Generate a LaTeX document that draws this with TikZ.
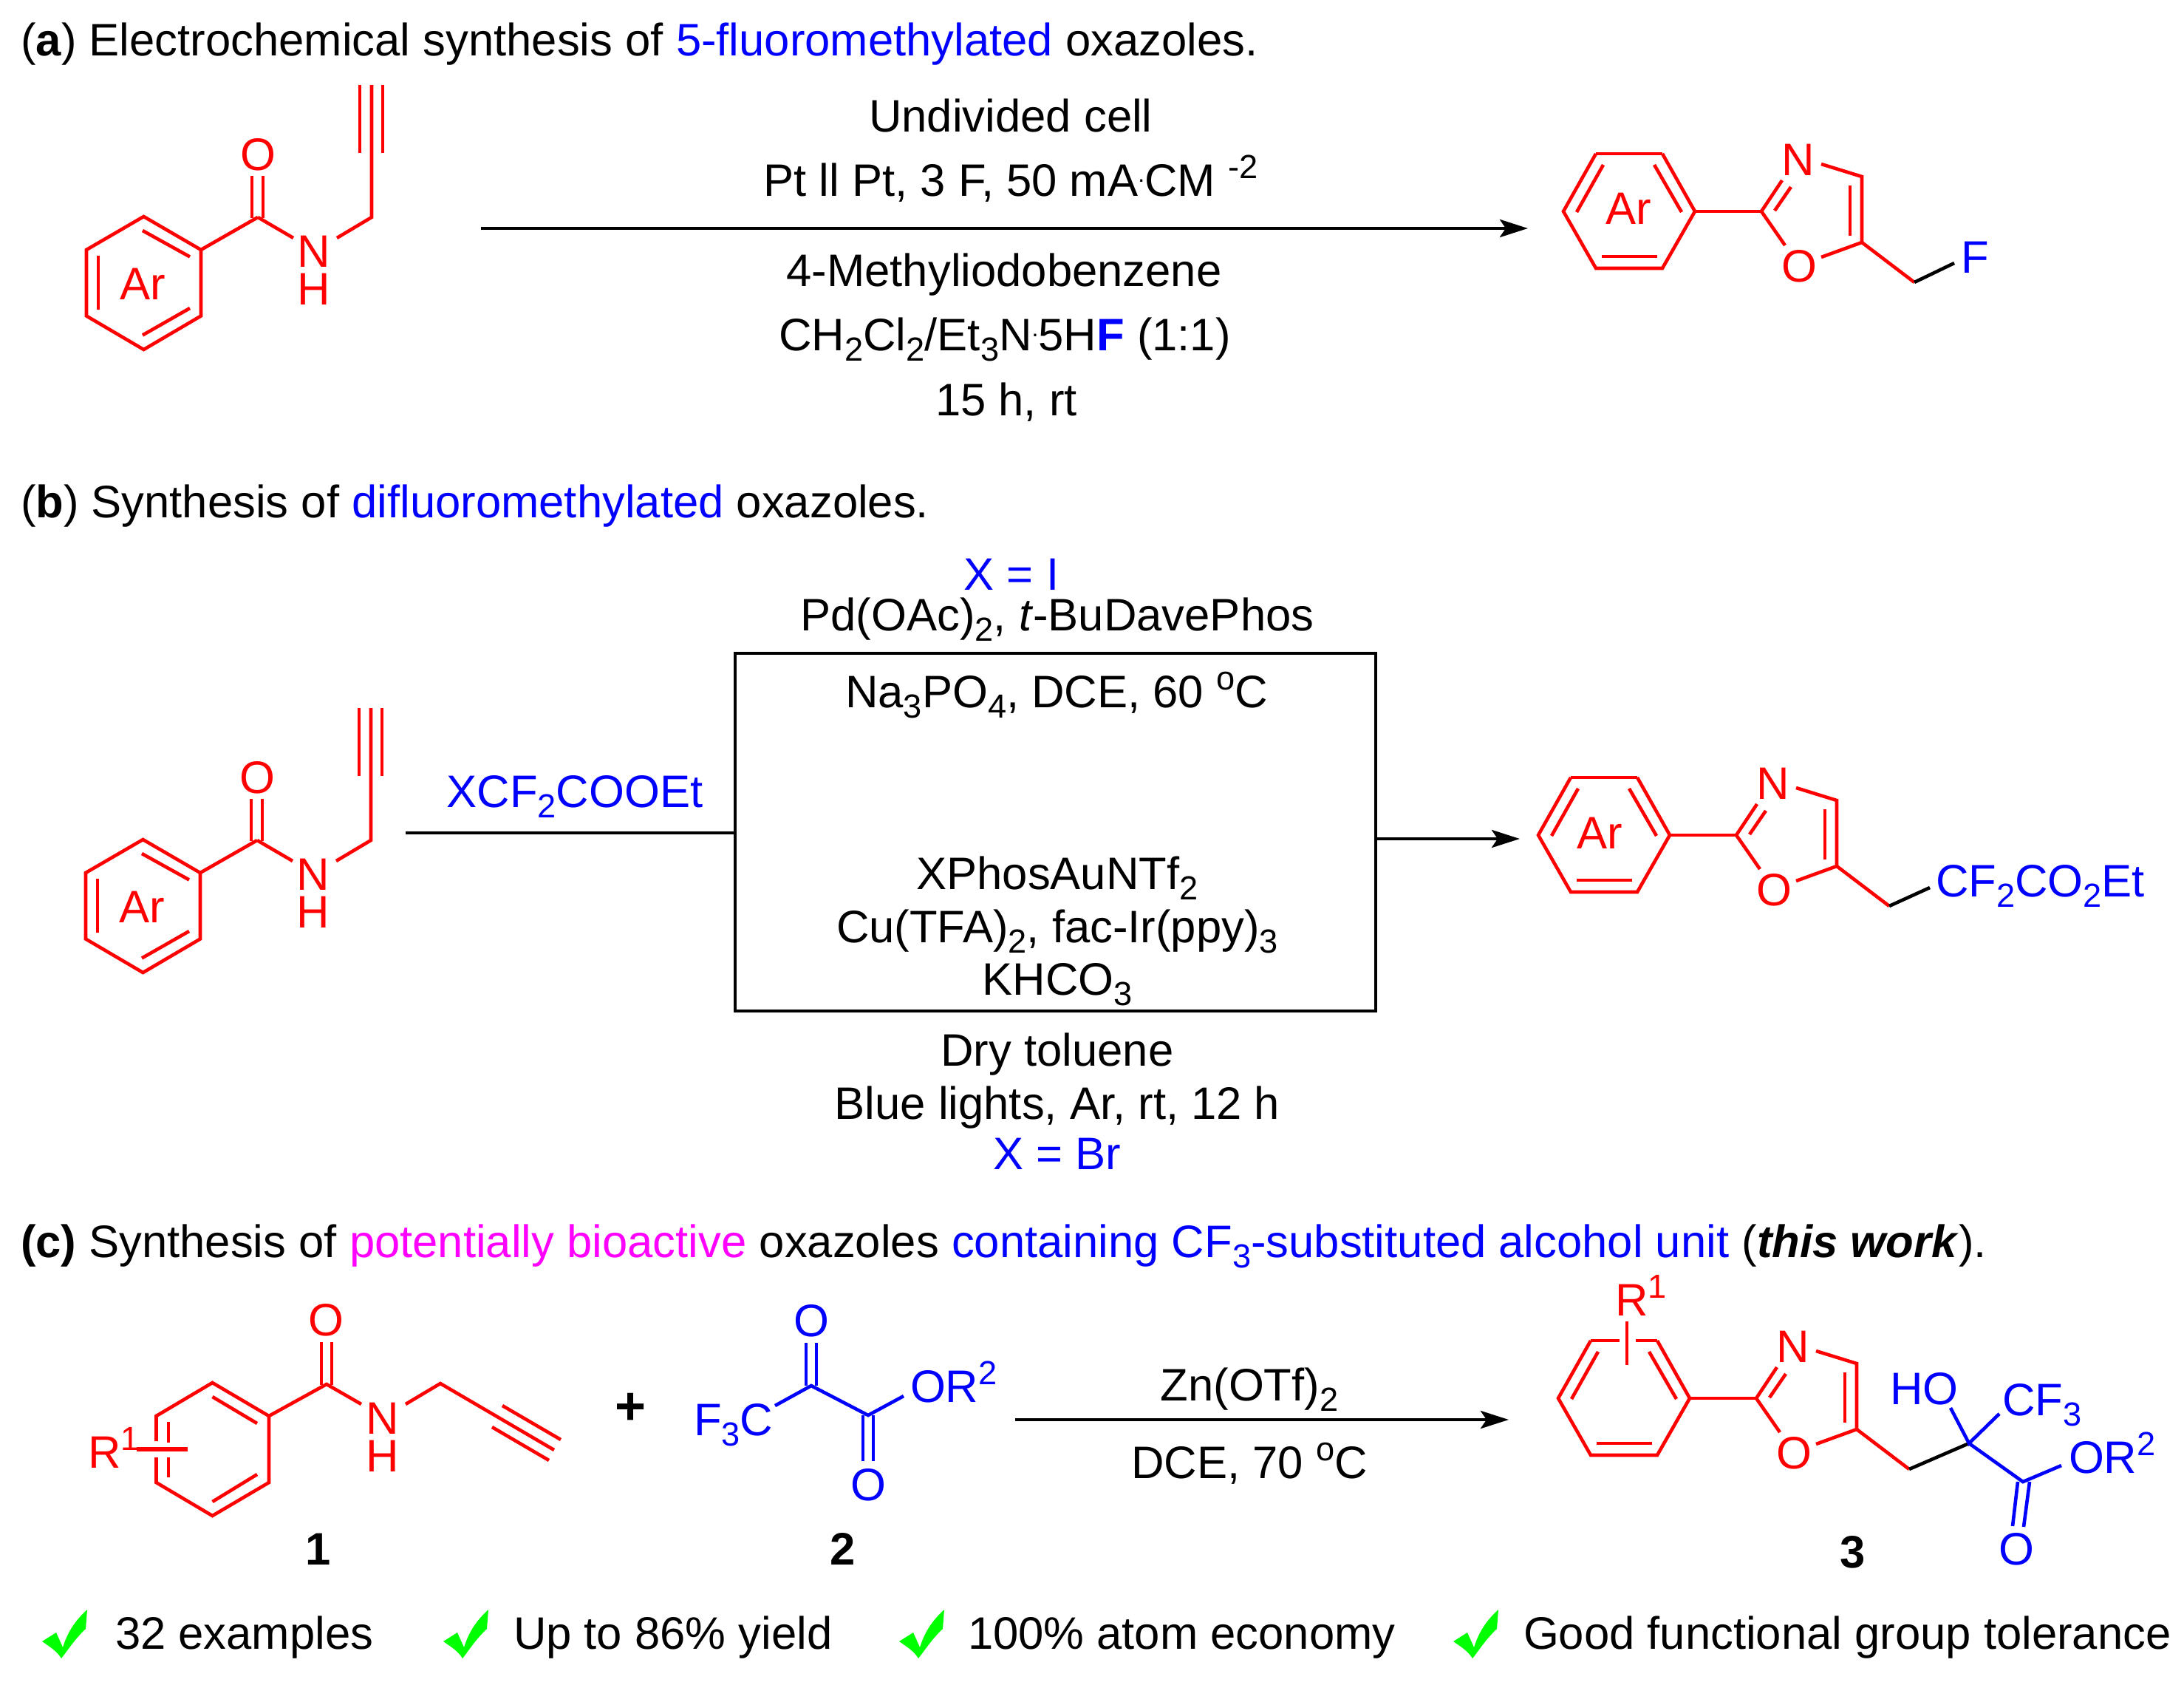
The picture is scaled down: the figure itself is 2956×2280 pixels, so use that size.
\documentclass[tikz,border=0pt]{standalone}
\usepackage{fontspec}
\setmainfont{Liberation Sans}
\usetikzlibrary{arrows.meta}
\definecolor{chkgreen}{RGB}{0,255,0}
\definecolor{hotpink}{RGB}{255,0,255}
\newcommand{\sbs}[1]{\raisebox{-.23em}{\fontsize{11.3}{11.3}\selectfont #1}}
\newcommand{\sps}[1]{\raisebox{.38em}{\fontsize{11.3}{11.3}\selectfont #1}}
\newcommand{\mdot}{\raisebox{.3em}{\fontsize{8}{8}\selectfont .}}
\tikzset{
  every node/.style={inner sep=0pt, outer sep=0pt, font=\fontsize{15.4}{18}\selectfont},
  txt/.style={anchor=base},
  head/.style={anchor=base west},
  redbond/.style={draw=red, line width=1.15pt},
  blubond/.style={draw=blue, line width=1.15pt},
  blkbond/.style={draw=black, line width=1.15pt},
  rxn/.style={draw=black, line width=1.15pt},
  arw/.style={rxn, -{Stealth[length=9.5pt, width=6pt, inset=2pt]}},
  rtxt/.style={text=red},
  btxt/.style={text=blue},
  nhlab/.style={rtxt, align=center, font=\fontsize{15.4}{12.75}\selectfont},
  tick/.pic={\fill[chkgreen] (0,43) -- (19,31) -- (28,51) .. controls (36,26) and (48,12) .. (61,0) -- (59,26) .. controls (44,40) and (34,56) .. (26,66) .. controls (20,56) and (10,50) .. cycle;},
  amide/.pic={
    \draw[redbond] (194.5,293) -- (272,338) -- (272,427.5) -- (194.5,473) -- (117,427.5) -- (117,338) -- cycle;
    \draw[redbond] (193,312) -- (257,347.5);
    \draw[redbond] (133,346) -- (133,419);
    \draw[redbond] (193,453.5) -- (257,417);
    \draw[redbond] (272,338) -- (349,294);
    \draw[redbond] (341,238) -- (341,295);
    \draw[redbond] (356,238) -- (356,295);
    \draw[redbond] (349,294) -- (397,322);
    \draw[redbond] (456,322) -- (503,294) -- (503,115);
    \draw[redbond] (487,115) -- (487,207);
    \draw[redbond] (518,115) -- (518,207);
    \node[rtxt] (Ar) at (193,384) {Ar};
    \node[rtxt] (O) at (349,209) {O};
    \node[nhlab] (NH) at (425,366) {N\\H};
  },
  azole/.pic={
    \draw[redbond] (2160,208) -- (2116,286) -- (2160,363) -- (2250,363) -- (2294,286) -- (2250,208);
    \draw[redbond] (2170,223) -- (2134,287);
    \draw[redbond] (2239,223) -- (2276,287);
    \draw[redbond] (2168,347) -- (2243,347);
    \draw[redbond] (2294,286) -- (2384,286);
    \draw[redbond] (2412,244) -- (2384,286) -- (2416,332);
    \draw[redbond] (2402,285) -- (2424,253);
    \draw[redbond] (2465,222) -- (2520,239) -- (2520,328) -- (2465,348);
    \draw[redbond] (2504,251) -- (2504,319);
    \draw[redbond] (2520,328) -- (2591,382);
    \coordinate (CH) at (2591,382);
    \node[rtxt] (N) at (2434,216) {N};
    \node[rtxt] (O) at (2435,360) {O};
  }
}
\begin{document}
\begin{tikzpicture}[x=.25pt, y=-.25pt]
\useasboundingbox (0,0) rectangle (2956,2280);
% part a
\node[head] (heada) at (28,76) {(\textbf{a}) Electrochemical synthesis of \textcolor{blue}{5-fluoromethylated} oxazoles.};
\pic (sa) at (0,0) {amide};
\coordinate (arwa) at (651,309);
\coordinate (tipa) at (2068,309);
\draw[arw] (arwa) -- (tipa);
\node[txt] (cella) at (1368,178) {Undivided cell};
\node[txt] (elec) at (1368,265) {Pt ll Pt, 3 F, 50 mA\mdot CM \sps{-2}};
\node[txt] (medi) at (1359,387) {4-Methyliodobenzene};
\node[txt] (solv) at (1360,474) {CH\sbs{2}Cl\sbs{2}/Et\sbs{3}N\mdot 5H\textcolor{blue}{\textbf{F}} (1:1)};
\node[txt] (timea) at (1362,562) {15 h, rt};
\pic (pa) at (0,0) {azole};
\draw[redbond] (2160,208) -- (2250,208);
\node[rtxt] (pAra) at (2204,282) {Ar};
\node[btxt] (Fa) at (2673,348) {F};
\coordinate (fenda) at (2645,356);
\draw[blkbond] (paCH) -- (fenda);
% part b
\node[head] (headb) at (28,700) {(\textbf{b}) Synthesis of \textcolor{blue}{difluoromethylated} oxazoles.};
\pic (sb) at (-1,843) {amide};
\node[txt, btxt] (reag) at (778,1092) {XCF\sbs{2}COOEt};
\node[draw, line width=.9pt, minimum width=216.75pt, minimum height=121pt] (cbox) at (1428.5,1126) {};
\coordinate (xsrc) at (549,1127);
\coordinate (xdst) at (2057,1135);
\draw[rxn] (xsrc) -- (xsrc -| cbox.west);
\draw[arw] (xdst -| cbox.east) -- (xdst);
\node[txt, btxt] (xi) at (1369,798) {X = I};
\node[txt] (pdcat) at (1431,853) {Pd(OAc)\sbs{2}, \textit{t}-BuDavePhos};
\node[txt] (nacond) at (1430,957) {Na\sbs{3}PO\sbs{4}, DCE, 60 \sps{o}C};
\node[txt] (xphos) at (1431,1203) {XPhosAuNTf\sbs{2}};
\node[txt] (cucat) at (1431,1275) {Cu(TFA)\sbs{2}, fac-Ir(ppy)\sbs{3}};
\node[txt] (khco) at (1431,1346) {KHCO\sbs{3}};
\node[txt] (tolu) at (1431,1442) {Dry toluene};
\node[txt] (blue) at (1431,1514) {Blue lights, Ar, rt, 12 h};
\node[txt, btxt] (xbr) at (1431,1582) {X = Br};
\pic (pb) at (-34,844) {azole};
\draw[redbond] (2126,1052) -- (2216,1052);
\node[rtxt] (pArb) at (2165,1127) {Ar};
\node[head, btxt] (cfco) at (2620,1213) {CF\sbs{2}CO\sbs{2}Et};
\coordinate (fendb) at (2612,1201);
\draw[blkbond] (pbCH) -- (fendb);
% part c
\node[head] (headc) at (28,1701) {\textbf{(c)} Synthesis of \textcolor{hotpink}{potentially bioactive} oxazoles \textcolor{blue}{containing CF\sbs{3}-substituted alcohol unit} (\textbf{\textit{this work}}).};
\draw[redbond] (211.5,1950) -- (211.5,1916) -- (287.5,1871) -- (364,1916) -- (364,2006) -- (287.5,2051) -- (211.5,2006) -- (211.5,1972);
\draw[redbond] (228,1924) -- (228,1952);
\draw[redbond] (228,1972) -- (228,1999);
\draw[redbond] (287.5,1890) -- (348,1926);
\draw[redbond] (287.5,2032) -- (348,1995);
\draw[redbond, line width=1.5pt] (185,1961) -- (254,1961);
\draw[redbond] (364,1916) -- (442,1873) -- (489,1900);
\draw[redbond] (435,1816) -- (435,1874);
\draw[redbond] (449,1816) -- (449,1874);
\draw[redbond] (549,1900) -- (596,1872) -- (750,1962);
\draw[redbond] (680,1902) -- (759,1948);
\draw[redbond] (666,1931) -- (743,1976);
\node[head, rtxt] (rone) at (119,1986) {R\sps{1}};
\node[rtxt] (oone) at (441,1786) {O};
\node[nhlab] (nhone) at (518,1945) {N\\H};
\node (plus) at (854,1906) {\fontsize{18}{18}\selectfont\textbf{+}};
\draw[blubond] (1049,1902) -- (1098,1875) -- (1175,1915) -- (1223,1889);
\draw[blubond] (1091,1817) -- (1091,1875);
\draw[blubond] (1105,1817) -- (1105,1875);
\draw[blubond] (1168,1915) -- (1168,1977);
\draw[blubond] (1182,1915) -- (1182,1977);
\node[head, btxt] (ftc) at (939,1942) {F\sbs{3}C};
\node[btxt] (otwo) at (1098,1787) {O};
\node[btxt] (othr) at (1175,2009) {O};
\node[head, btxt] (ortwo) at (1232,1897) {OR\sps{2}};
\coordinate (arwc) at (1374,1921);
\coordinate (tipc) at (2042,1921);
\draw[arw] (arwc) -- (tipc);
\node[txt] (zn) at (1691,1895) {Zn(OTf)\sbs{2}};
\node[txt] (dcec) at (1691,2000) {DCE, 70 \sps{o}C};
\pic (pc) at (-7,1606) {azole};
\draw[redbond] (2153,1814) -- (2192,1814);
\draw[redbond] (2214,1814) -- (2243,1814);
\draw[redbond] (2202,1788) -- (2202,1847);
\node[head, rtxt] (rthr) at (2186,1780) {R\sps{1}};
\coordinate (qc) at (2665,1953);
\draw[blkbond] (pcCH) -- (qc);
\draw[blubond] (2640,1905) -- (qc) -- (2706,1913);
\draw[blubond] (qc) -- (2738,2005) -- (2790,1983);
\draw[blubond] (2731,2005) -- (2724,2065);
\draw[blubond] (2747,2005) -- (2739,2066);
\node[head, btxt] (hoc) at (2558,1900) {HO};
\node[head, btxt] (cfc) at (2710,1915) {CF\sbs{3}};
\node[head, btxt] (orc) at (2800,1993) {OR\sps{2}};
\node[btxt] (oc) at (2729,2096) {O};
\node (lblone) at (431,2096) {\textbf{1}};
\node (lbltwo) at (1141,2096) {\textbf{2}};
\node (lblthr) at (2508,2100) {\textbf{3}};
% ticks
\pic (cka) at (57,2178) {tick};
\pic (ckb) at (600,2178) {tick};
\pic (ckc) at (1217,2178) {tick};
\pic (ckd) at (1967,2178) {tick};
\node[head] (ftrA) at (156,2231) {32 examples};
\node[head] (ftrB) at (695,2231) {Up to 86\% yield};
\node[head] (ftrC) at (1310,2231) {100\% atom economy};
\node[head] (ftrD) at (2062,2231) {Good functional group tolerance};
\end{tikzpicture}
\end{document}
